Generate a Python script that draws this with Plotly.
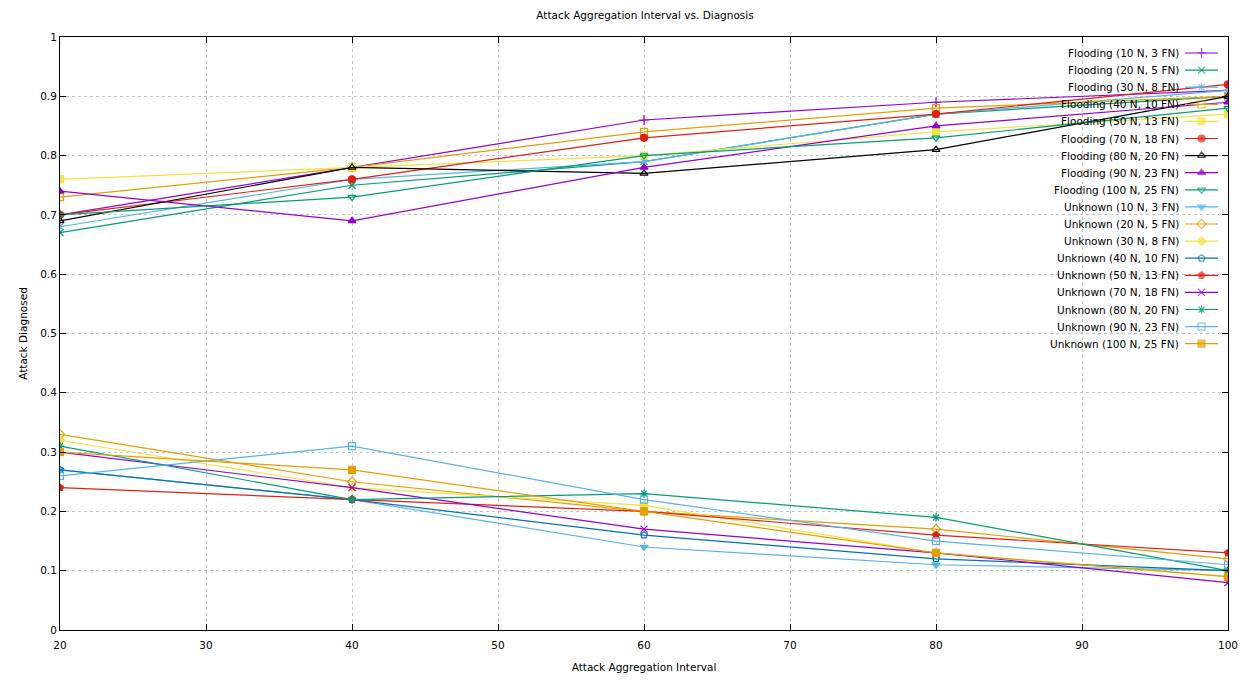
import plotly.graph_objects as go

x_vals = [20, 40, 60, 80, 100]

series_names = [
    "Flooding (10 N, 3 FN)", "Flooding (20 N, 5 FN)", "Flooding (30 N, 8 FN)",
    "Flooding (40 N, 10 FN)", "Flooding (50 N, 13 FN)", "Flooding (70 N, 18 FN)",
    "Flooding (80 N, 20 FN)", "Flooding (90 N, 23 FN)", "Flooding (100 N, 25 FN)",
    "Unknown (10 N, 3 FN)", "Unknown (20 N, 5 FN)", "Unknown (30 N, 8 FN)",
    "Unknown (40 N, 10 FN)", "Unknown (50 N, 13 FN)", "Unknown (70 N, 18 FN)",
    "Unknown (80 N, 20 FN)", "Unknown (90 N, 23 FN)", "Unknown (100 N, 25 FN)",
]

flood_10 = [0.70, 0.78, 0.86, 0.89, 0.91]
flood_20 = [0.67, 0.75, 0.79, 0.87, 0.90]
flood_30 = [0.68, 0.76, 0.79, 0.87, 0.91]
flood_40 = [0.73, 0.78, 0.84, 0.88, 0.90]
flood_50 = [0.76, 0.78, 0.80, 0.84, 0.87]
flood_70 = [0.70, 0.76, 0.83, 0.87, 0.92]
flood_80 = [0.69, 0.78, 0.77, 0.81, 0.90]
flood_90 = [0.74, 0.69, 0.78, 0.85, 0.89]
flood_100 = [0.70, 0.73, 0.80, 0.83, 0.88]
unk_10 = [0.27, 0.22, 0.14, 0.11, 0.10]
unk_20 = [0.33, 0.25, 0.20, 0.17, 0.12]
unk_30 = [0.32, 0.24, 0.21, 0.13, 0.09]
unk_40 = [0.27, 0.22, 0.16, 0.12, 0.10]
unk_50 = [0.24, 0.22, 0.20, 0.16, 0.13]
unk_70 = [0.30, 0.24, 0.17, 0.13, 0.08]
unk_80 = [0.31, 0.22, 0.23, 0.19, 0.10]
unk_90 = [0.26, 0.31, 0.22, 0.15, 0.11]
unk_100 = [0.30, 0.27, 0.20, 0.13, 0.09]

series_values = [flood_10, flood_20, flood_30, flood_40, flood_50, flood_70,
                 flood_80, flood_90, flood_100, unk_10, unk_20, unk_30,
                 unk_40, unk_50, unk_70, unk_80, unk_90, unk_100]

x_ticks = [20, 30, 40, 50, 60, 70, 80, 90, 100]
y_ticks = [0, 0.1, 0.2, 0.3, 0.4, 0.5, 0.6, 0.7, 0.8, 0.9, 1.0]
y_tick_labels = ["0", "0.1", "0.2", "0.3", "0.4", "0.5", "0.6", "0.7", "0.8", "0.9", "1"]

# gnuplot default cycle (index 6 / 16 were skipped in the original)
palette = ["#9400D3", "#009E73", "#56B4E9", "#E69F00", "#F0E442", "#0072B2", "#E51E10", "#000000"]
symbols = ["cross-thin-open", "x-thin-open", "asterisk-open", "square-open", "square",
           "circle-open", "circle", "triangle-up-open", "triangle-up", "triangle-down-open",
           "triangle-down", "diamond-open", "diamond", "pentagon-open", "pentagon"]
style_index = [1, 2, 3, 4, 5, 7, 8, 9, 10, 11, 12, 13, 14, 15, 17, 18, 19, 20]

FONT = "DejaVu Sans"
FS = 10.5

fig = go.Figure()

# page has an 8px body margin, so the figure is offset by (8, 8)
W, H = 1242, 678
L, R, T, B = 52, 20, 29, 56

for name, vals, si in zip(series_names, series_values, style_index):
    col = palette[(si - 1) % 8]
    sym = symbols[(si - 1) % 15]
    fig.add_trace(go.Scatter(
        x=x_vals, y=vals, mode="lines+markers", name=name,
        line=dict(color=col, width=1.2),
        marker=dict(symbol=sym, size=7, color=col, line=dict(color=col, width=1.2)),
        showlegend=False, xaxis="x", yaxis="y",
    ))

# gnuplot-style key (text right-aligned, sample to the right) in a pixel-space overlay axis
key_top = 53 - 8
key_step = 17.1
for i, (name, si) in enumerate(zip(series_names, style_index)):
    col = palette[(si - 1) % 8]
    sym = symbols[(si - 1) % 15]
    yp = key_top + i * key_step
    fig.add_trace(go.Scatter(
        x=[1179, 1195.5, 1212], y=[yp, yp, yp], mode="lines+markers",
        line=dict(color=col, width=1.2),
        marker=dict(symbol=sym, size=[0, 7, 0], color=col, line=dict(color=col, width=1.2)),
        showlegend=False, hoverinfo="skip", xaxis="x2", yaxis="y2",
    ))
    fig.add_annotation(x=1175, y=yp, xref="x2", yref="y2", text=name, showarrow=False,
                       xanchor="right", yanchor="middle",
                       font=dict(family=FONT, size=FS, color="#000000"))

axis_common = dict(
    showline=True, linecolor="#000000", linewidth=1, mirror="ticks",
    ticks="inside", ticklen=6, tickcolor="#000000",
    showgrid=True, gridcolor="#c4c4c4", griddash="dot", gridwidth=1,
    zeroline=False, tickfont=dict(family=FONT, size=FS, color="#000000"),
)

fig.update_layout(
    width=W, height=H,
    margin=dict(l=L, r=R, t=T, b=B),
    paper_bgcolor="white", plot_bgcolor="white",
    title=dict(text="Attack Aggregation Interval vs. Diagnosis", x=(L + (W - R)) / 2 / W, xanchor="center",
               y=1 - 7 / H, yanchor="middle", font=dict(family=FONT, size=FS, color="#000000")),
    xaxis=dict(range=[20, 100], tickvals=x_ticks, ticklabelstandoff=5, **axis_common,
               title=dict(text="Attack Aggregation Interval", font=dict(family=FONT, size=FS, color="#000000"),
                          standoff=14)),
    yaxis=dict(range=[0, 1], tickvals=y_ticks, ticktext=y_tick_labels, **axis_common,
               title=dict(text="Attack Diagnosed", font=dict(family=FONT, size=FS, color="#000000"),
                          standoff=10)),
    xaxis2=dict(range=[L, W - R], overlaying="x", visible=False, fixedrange=True),
    yaxis2=dict(range=[H - B, T], overlaying="y", visible=False, fixedrange=True),
    showlegend=False,
)

fig.write_html("out.html")
